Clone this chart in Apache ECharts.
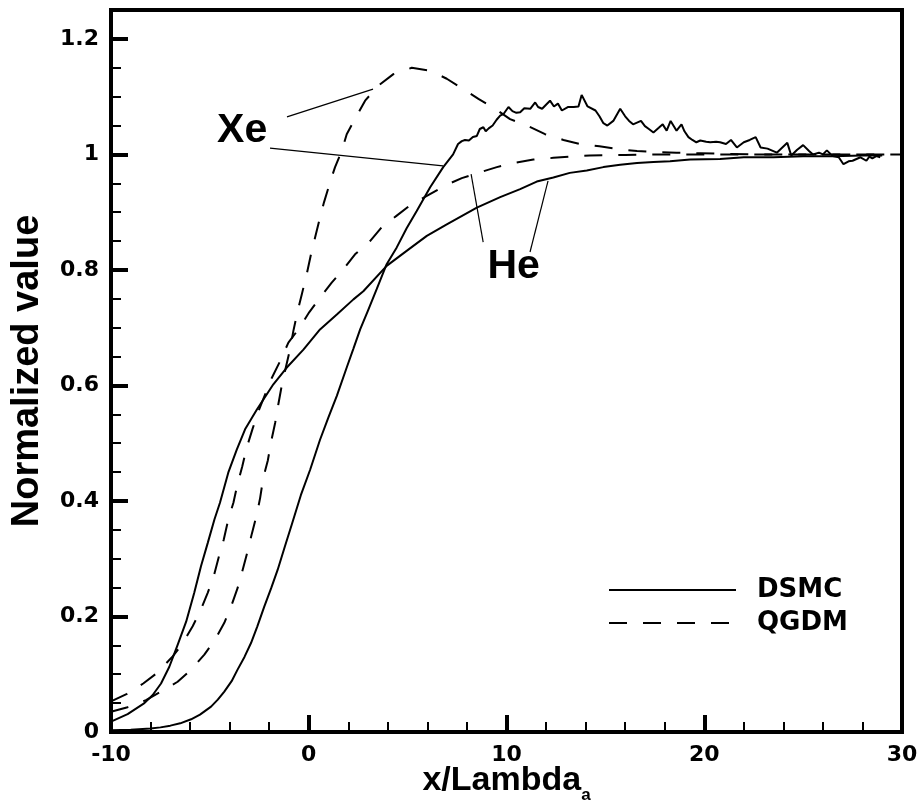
<!DOCTYPE html>
<html>
<head>
<meta charset="utf-8">
<script src="https://cdn.jsdelivr.net/npm/echarts@6/dist/echarts.min.js"></script>
<style>
html,body{margin:0;padding:0;background:#fff;}
#chart{width:919px;height:809px;}
</style>
</head>
<body>
<div id="chart"></div>
<script>
// ---------------- data ----------------
const xTickLabels = [-10, 0, 10, 20, 30];
const yTickLabels = [0, 0.2, 0.4, 0.6, 0.8, 1, 1.2];

const xeDSMC = [[-10,0.003],[-9,0.004],[-8,0.006],[-7.5,0.008],[-7,0.011],[-6.5,0.015],[-5.95,0.022],[-5.5,0.03],[-4.94,0.044],[-4.6,0.056],[-4.27,0.07],[-3.9,0.088],[-3.6,0.108],[-3.25,0.13],[-2.92,0.154],[-2.6,0.183],[-2.25,0.217],[-1.9,0.249],[-1.57,0.281],[-1.2,0.322],[-0.85,0.36],[-0.4,0.41],[0.07,0.454],[0.57,0.506],[1.0,0.545],[1.42,0.582],[1.92,0.631],[2.25,0.663],[2.6,0.697],[3.0,0.73],[3.44,0.767],[3.94,0.81],[4.45,0.839],[4.95,0.872],[5.46,0.902],[6.14,0.943],[6.8,0.978],[7.3,1.0],[7.55,1.018],[7.74,1.023],[7.9,1.025],[8.1,1.024],[8.3,1.03],[8.5,1.032],[8.65,1.044],[8.83,1.047],[8.95,1.04],[9.1,1.045],[9.3,1.05],[9.5,1.06],[9.68,1.067],[9.85,1.07],[10.1,1.082],[10.3,1.075],[10.5,1.072],[10.69,1.073],[10.9,1.08],[11.2,1.079],[11.45,1.09],[11.6,1.082],[11.8,1.079],[12.0,1.086],[12.2,1.093],[12.4,1.083],[12.6,1.088],[12.8,1.076],[13.1,1.082],[13.4,1.082],[13.64,1.083],[13.8,1.103],[14.1,1.083],[14.5,1.076],[14.7,1.066],[14.9,1.054],[15.1,1.05],[15.4,1.058],[15.75,1.079],[16.0,1.066],[16.2,1.058],[16.4,1.052],[16.6,1.055],[16.8,1.058],[17.0,1.049],[17.2,1.044],[17.43,1.038],[17.7,1.046],[17.9,1.052],[18.1,1.041],[18.3,1.058],[18.6,1.041],[18.85,1.052],[19.0,1.04],[19.2,1.03],[19.4,1.025],[19.6,1.021],[19.8,1.024],[20.1,1.022],[20.3,1.021],[20.6,1.022],[20.8,1.021],[21.1,1.018],[21.35,1.025],[21.65,1.012],[22.0,1.021],[22.3,1.025],[22.6,1.03],[22.85,1.012],[23.2,1.01],[23.67,1.003],[24.2,1.02],[24.4,0.998],[24.7,1.008],[25.0,1.016],[25.3,1.006],[25.5,1.0],[25.8,1.003],[26.0,1.0],[26.2,1.007],[26.5,0.997],[26.8,0.995],[27.04,0.983],[27.3,0.988],[27.5,0.989],[27.7,0.992],[27.9,0.995],[28.2,0.989],[28.35,0.996],[28.5,0.993],[28.7,0.997],[28.9,0.995]];

const xeQGDM = [[-10,0.035],[-9.16,0.043],[-8.23,0.055],[-7.47,0.07],[-6.63,0.087],[-5.95,0.108],[-5.28,0.134],[-4.74,0.16],[-4.27,0.189],[-3.93,0.217],[-3.6,0.249],[-3.34,0.281],[-3.09,0.313],[-2.88,0.343],[-2.63,0.376],[-2.46,0.405],[-2.3,0.44],[-2.07,0.47],[-1.9,0.503],[-1.7,0.535],[-1.54,0.567],[-1.37,0.599],[-1.16,0.631],[-0.95,0.662],[-0.78,0.694],[-0.58,0.726],[-0.35,0.758],[-0.1,0.793],[0.15,0.833],[0.32,0.856],[0.57,0.891],[0.77,0.917],[1.08,0.952],[1.33,0.978],[1.67,1.006],[1.92,1.035],[2.43,1.067],[2.85,1.093],[3.52,1.119],[4.28,1.139],[5.21,1.15],[6.14,1.145],[6.98,1.131],[7.82,1.113],[8.58,1.096],[9.42,1.079],[10.18,1.061],[11.03,1.05],[11.95,1.035],[12.88,1.025],[13.7,1.018],[14.7,1.014],[15.66,1.009],[16.6,1.006],[17.7,1.004],[18.6,1.003],[19.8,1.002],[21,1.001],[23,1.0],[26,1.0],[30,1.0]];

const heDSMC = [[-10,0.018],[-9.16,0.031],[-8.31,0.05],[-7.89,0.064],[-7.47,0.084],[-7.05,0.113],[-6.63,0.151],[-6.2,0.191],[-5.79,0.241],[-5.45,0.287],[-5.11,0.327],[-4.77,0.368],[-4.49,0.397],[-4.07,0.449],[-3.64,0.489],[-3.22,0.524],[-2.63,0.558],[-1.79,0.602],[-1.11,0.631],[-0.27,0.662],[0.57,0.697],[1.42,0.723],[2.26,0.749],[2.76,0.763],[3.94,0.807],[4.95,0.833],[5.97,0.859],[6.98,0.879],[8.5,0.908],[9.68,0.926],[10.69,0.94],[11.53,0.953],[12.37,0.96],[13.2,0.968],[14.06,0.972],[14.9,0.978],[15.75,0.982],[16.6,0.985],[17.43,0.987],[18.27,0.988],[19.29,0.991],[20.8,0.992],[22,0.995],[23.5,0.995],[25,0.997],[26.5,0.997],[28,0.998],[29,0.998]];

const heQGDM = [[-10,0.053],[-9.19,0.066],[-8.37,0.084],[-7.64,0.103],[-6.88,0.131],[-6.42,0.151],[-5.87,0.183],[-5.48,0.21],[-5.11,0.241],[-4.81,0.269],[-4.55,0.303],[-4.3,0.333],[-4.07,0.368],[-3.81,0.397],[-3.61,0.428],[-3.36,0.46],[-3.14,0.492],[-2.85,0.524],[-2.55,0.555],[-2.21,0.584],[-1.87,0.613],[-1.45,0.642],[-1.03,0.674],[-0.53,0.697],[0.03,0.727],[0.57,0.752],[1.16,0.778],[1.75,0.801],[2.34,0.827],[3.1,0.85],[3.69,0.874],[4.45,0.894],[5.21,0.914],[5.97,0.928],[6.89,0.946],[7.74,0.959],[8.66,0.969],[9.51,0.978],[10.5,0.986],[11.36,0.991],[12.37,0.994],[13.2,0.996],[14.2,0.998],[16,0.999],[18,1.0],[30,1.0]];

// annotation labels and their leader lines (data coordinates)
const annotationText = ['Xe', 'He'];
const annotationPos = [[-3.37, 1.041], [10.36, 0.806]];
const leaderLines = [
  [[-1.10, 1.065], [3.25, 1.113]],
  [[-1.96, 1.011], [6.79, 0.980]],
  [[8.82, 0.848], [8.21, 0.966]],
  [[11.19, 0.831], [12.1, 0.954]]
];
const legendNames = ['DSMC', 'QGDM'];

// ---------------- chart ----------------
const chart = echarts.init(document.getElementById('chart'), null, {renderer: 'canvas'});
const BLACK = '#000';
const tickFont = '"DejaVu Sans", sans-serif';
const titleFont = '"Liberation Sans", Arial, sans-serif';
const DASH = [18, 16];

function curve(name, data, dashed) {
  return {
    type: 'line', name: name, data: data, xAxisIndex: 0, yAxisIndex: 0,
    symbol: 'none', showSymbol: false, smooth: false, animation: false,
    lineStyle: {color: BLACK, width: 2, type: dashed ? DASH : 'solid'},
    itemStyle: {color: BLACK}, z: 3
  };
}

const series = [
  curve(legendNames[0], xeDSMC, false),
  curve(legendNames[1], xeQGDM, true),
  curve(legendNames[0], heDSMC, false),
  curve(legendNames[1], heQGDM, true)
];
leaderLines.forEach(function (seg, i) {
  series.push({
    type: 'line', name: 'leader' + i, data: seg, symbol: 'none', showSymbol: false,
    animation: false, silent: true,
    lineStyle: {color: BLACK, width: 1.2}, z: 2
  });
});

const option = {
  backgroundColor: '#fff',
  animation: false,
  grid: {
    left: 111, right: 17, top: 10, bottom: 77,
    show: true, borderColor: BLACK, borderWidth: 4, backgroundColor: 'transparent',
    containLabel: false, outerBoundsMode: 'none'
  },
  legend: {
    data: legendNames,
    orient: 'vertical',
    left: 603, top: 570,
    itemWidth: 127, itemHeight: 14, itemGap: 3,
    selectedMode: false,
    itemStyle: {color: 'rgba(0,0,0,0)', borderColor: 'rgba(0,0,0,0)', borderWidth: 0, opacity: 0},
    textStyle: {
      color: BLACK, fontFamily: tickFont, fontWeight: 'bold', fontSize: 26,
      lineHeight: 30, padding: [0, 0, 0, 16]
    }
  },
  xAxis: [{
    type: 'value', min: -10, max: 30, interval: 10,
    name: '{m|x/Lambda}{s|a}',
    nameLocation: 'middle', nameGap: 26, nameMoveOverlap: false,
    nameTextStyle: {
      rich: {
        m: {fontFamily: titleFont, fontWeight: 'bold', fontSize: 34, color: BLACK, lineHeight: 46},
        s: {fontFamily: titleFont, fontWeight: 'bold', fontSize: 17, color: BLACK, lineHeight: 17, verticalAlign: 'bottom'}
      }
    },
    axisLine: {show: true, onZero: false, lineStyle: {color: BLACK, width: 4}},
    axisTick: {show: true, inside: true, length: 17, lineStyle: {color: BLACK, width: 4}},
    minorTick: {show: true, splitNumber: 5, length: 10, lineStyle: {color: BLACK, width: 2}},
    axisLabel: {
      margin: 12, color: BLACK, fontFamily: tickFont, fontWeight: 'bold', fontSize: 22,
      customValues: xTickLabels
    },
    splitLine: {show: false}, minorSplitLine: {show: false}
  }],
  yAxis: [{
    type: 'value', min: 0, max: 1.25, interval: 0.05,
    axisLine: {show: true, onZero: false, lineStyle: {color: BLACK, width: 4}},
    axisTick: {show: true, inside: true, length: 10, lineStyle: {color: BLACK, width: 2}},
    axisLabel: {show: false},
    splitLine: {show: false}
  }, {
    type: 'value', min: 0, max: 1.25, interval: 0.05, position: 'left', offset: 0,
    name: 'Normalized value', nameLocation: 'middle', nameGap: 64, nameRotate: 90,
    nameTextStyle: {fontFamily: titleFont, fontWeight: 'bold', fontSize: 38, color: BLACK},
    axisLine: {show: false, onZero: false},
    axisTick: {show: true, inside: true, length: 17, lineStyle: {color: BLACK, width: 4}, customValues: yTickLabels},
    axisLabel: {
      margin: 12, color: BLACK, fontFamily: tickFont, fontWeight: 'bold', fontSize: 22,
      customValues: yTickLabels, formatter: function (v) { return String(v); }
    },
    splitLine: {show: false}
  }],
  graphic: [],
  series: series
};
chart.setOption(option);

// "Xe" / "He" labels placed through the chart's own coordinate conversion
chart.setOption({
  graphic: annotationPos.map(function (p, i) {
    const px = chart.convertToPixel({gridIndex: 0}, p);
    return {
      type: 'text', x: px[0], y: px[1], z: 10, silent: true,
      style: {
        text: annotationText[i], fill: BLACK, align: 'center', verticalAlign: 'middle',
        font: 'bold 41px "Liberation Sans", Arial, sans-serif'
      }
    };
  })
});
</script>
</body>
</html>
